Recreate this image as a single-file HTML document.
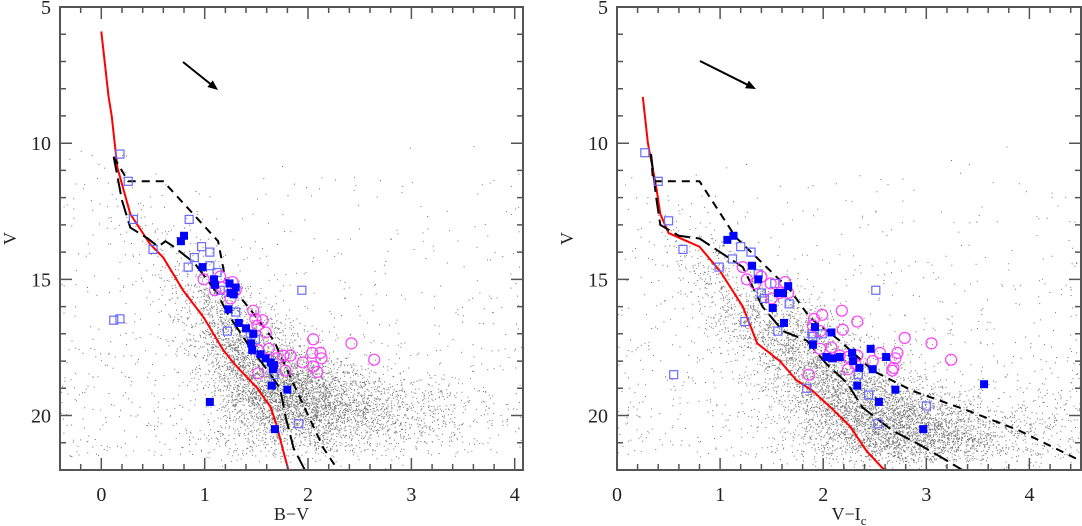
<!DOCTYPE html>
<html><head><meta charset="utf-8">
<style>
html,body{margin:0;padding:0;background:#fff;}
svg{display:block;font-family:"Liberation Serif",serif;}
</style></head>
<body>
<svg id="chart" width="1082" height="526" viewBox="0 0 1082 526" xmlns="http://www.w3.org/2000/svg"></svg>
<script>
// ---------- LEFT PANEL DATA (B-V, V) ----------
const L_redC=[0.0,0.07,0.1,0.155,0.28,0.47,0.6,0.79,0.99,1.18,1.31,1.51,1.64,1.70,1.76,1.81];
const L_redV=[5.9,8.3,9.0,10.9,12.6,13.7,14.2,15.4,16.4,17.6,18.2,19.0,19.7,20.4,21.3,22.0];
const L_longC=[0.12,0.2,0.28,0.45,0.55,0.62,0.7,0.9,1.12,1.22,1.44,1.6,1.73,1.78,1.86,1.97];
const L_longV=[10.5,12.1,13.1,13.5,13.8,13.6,13.8,14.4,15.5,16.25,17.5,18.3,19.0,20.0,21.2,22.0];
const L_shortC=[0.12,0.26,0.6,1.13,1.2,1.44,1.67,1.83,1.99,2.15,2.29];
const L_shortV=[10.5,11.4,11.4,13.6,15.0,16.1,17.25,18.6,19.9,21.2,22.0];
const L_filledC=[0.77,0.80,0.98,1.09,1.10,1.24,1.25,1.28,1.23,1.33,1.40,1.47,1.45,1.46,1.54,1.59,1.64,1.67,1.66,1.65,1.80,1.05,1.68,1.30];
const L_filledV=[13.6,13.4,14.55,15.0,15.2,15.15,15.5,15.55,16.1,16.6,16.8,17.0,17.35,17.6,17.75,17.9,18.05,18.15,18.3,18.9,19.05,19.5,20.5,15.3];
const L_openC=[0.18,0.26,0.31,0.5,0.12,0.18,0.85,0.97,1.05,0.9,0.84,1.05,1.15,1.30,1.22,1.44,1.49,1.94,1.67,1.91,1.12];
const L_openV=[10.4,11.4,12.8,13.9,16.5,16.45,12.8,13.8,14.0,14.2,14.55,14.5,15.4,16.2,16.9,17.0,17.2,15.4,18.5,20.3,14.75];
const L_circC=[0.99,1.10,1.15,1.27,1.3,1.25,1.17,1.47,1.49,1.56,1.51,1.59,1.62,1.52,1.70,1.76,1.83,1.78,1.52,1.95,2.04,2.12,2.13,2.05,2.09,2.05,2.42,2.64];
const L_circV=[15.0,15.4,14.9,15.1,15.4,15.7,15.3,16.15,16.45,16.5,16.7,16.95,17.55,17.6,17.9,17.8,17.8,18.35,18.45,18.05,17.7,17.7,17.9,18.2,18.4,17.2,17.35,17.95];
// field-star density ridges (centre colour, centre mag, colour spread, mag spread, count)
const L_ridgeC=[0.3,0.7,1.0,1.2,1.4,1.6,1.8,2.0,2.3,2.7,3.1,1.6];
const L_ridgeV=[12.5,14.2,15.5,16.5,17.5,18.4,19.2,19.7,19.9,19.9,19.8,20.6];
const L_ridgeSC=[0.15,0.15,0.15,0.17,0.2,0.22,0.25,0.3,0.35,0.35,0.3,0.3];
const L_ridgeSV=[0.6,0.6,0.5,0.5,0.5,0.5,0.5,0.55,0.55,0.6,0.6,0.6];
const L_ridgeN=[40,80,200,400,600,900,1100,900,600,300,150,300];
// ---------- RIGHT PANEL DATA (V-Ic, V) ----------
const R_redC=[0.25,0.3,0.38,0.42,0.5,0.8,1.0,1.22,1.36,1.58,1.74,1.9,2.1,2.26,2.42,2.58,2.62];
const R_redV=[8.3,10.0,11.6,12.6,13.3,13.8,14.7,16.0,17.35,18.0,18.7,19.1,19.8,20.4,21.3,21.95,22.0];
const R_longC=[0.33,0.38,0.42,0.6,0.8,1.22,1.41,1.61,1.84,2.03,2.23,2.38,2.67,2.9,3.13,3.35];
const R_longV=[10.4,12.0,13.0,13.4,13.5,14.55,16.0,16.9,17.25,18.1,18.8,19.7,20.55,21.0,21.5,22.0];
const R_shortC=[0.33,0.35,0.8,1.15,1.45,1.68,1.87,2.16,2.48,2.87,3.39,3.9,4.49];
const R_shortV=[10.4,11.4,11.4,13.45,14.55,15.4,16.4,17.25,18.35,19.1,19.8,20.55,21.65];
const R_filledC=[1.07,1.13,1.31,1.37,1.66,1.56,1.61,1.51,1.62,1.92,2.08,1.90,2.03,2.09,2.16,2.28,2.29,2.35,2.48,2.46,2.61,2.33,2.70,2.54,2.97,3.56];
const R_filledV=[13.55,13.4,14.5,15.0,15.25,15.5,15.5,16.05,16.6,16.75,16.95,17.4,17.85,17.9,17.85,17.7,18.0,18.25,18.3,17.55,17.85,18.9,19.05,19.5,20.5,18.85];
const R_openC=[0.27,0.4,0.5,0.64,0.55,0.99,1.12,1.2,1.3,1.24,1.37,1.40,1.43,1.53,1.67,1.56,1.89,1.90,1.99,2.51,1.84,2.34,2.44,3.0,2.53];
const R_openV=[10.35,11.4,12.85,13.9,18.5,14.55,14.25,13.8,14.0,16.55,14.8,15.5,15.7,15.15,15.9,16.9,17.0,17.1,17.0,15.4,19.0,18.5,19.25,19.65,20.3];
const R_circC=[1.22,1.26,1.40,1.34,1.49,1.63,1.58,1.66,1.50,2.18,1.99,1.91,2.33,2.19,1.90,1.97,2.08,1.97,2.16,2.24,2.33,2.24,2.48,2.55,2.72,2.70,2.68,2.67,2.79,3.05,3.24,1.86,2.31];
const R_circV=[14.55,15.0,14.9,15.15,15.15,15.1,15.5,15.5,15.7,16.15,16.3,16.45,16.55,16.85,16.7,16.9,17.5,17.55,17.8,17.85,17.8,18.3,18.0,17.7,17.7,17.9,18.25,18.35,17.15,17.35,17.95,18.5,18.1];
const R_ridgeC=[0.5,0.9,1.3,1.6,1.9,2.2,2.5,2.8,3.1,3.6,4.1,2.3];
const R_ridgeV=[13.0,14.5,16.0,17.0,18.0,19.0,19.9,20.6,20.9,20.6,20.3,21.0];
const R_ridgeSC=[0.12,0.15,0.18,0.2,0.22,0.25,0.28,0.3,0.35,0.4,0.4,0.3];
const R_ridgeSV=[0.5,0.5,0.5,0.5,0.55,0.55,0.55,0.5,0.45,0.55,0.6,0.5];
const R_ridgeN=[40,150,350,500,700,900,1100,1000,600,300,150,300];

const NS="http://www.w3.org/2000/svg";
const svg=document.getElementById('chart');
function mk(tag,attrs,parent){const e=document.createElementNS(NS,tag);for(const k in attrs)e.setAttribute(k,attrs[k]);(parent||svg).appendChild(e);return e;}

let seed=12345;
function rnd(){seed=(seed*1103515245+12345)&0x7fffffff;return seed/0x7fffffff;}
function gauss(){let u=rnd()||1e-6,v=rnd();return Math.sqrt(-2*Math.log(u))*Math.cos(2*Math.PI*v);}

function panel(p){
  const g=mk('g',{});
  
  
  const X=c=>p.x0+(c-p.cmin)*(p.x1-p.x0)/(p.cmax-p.cmin);
  const Y=v=>p.y0+(v-5)*(p.y1-p.y0)/(22-5);
  // clip
  const cid='clip-'+p.name;
  const cp=mk('clipPath',{id:cid},g);mk('rect',{x:p.x0,y:p.y0,width:p.x1-p.x0,height:p.y1-p.y0},cp);
  const inner=mk('g',{'clip-path':'url(#'+cid+')'},g);
  // field stars
  let d='';
  for(let i=0;i<p.rC.length;i++){
    for(let k=0;k<p.rN[i];k++){
      const c=p.rC[i]+gauss()*p.rSC[i]*1.3, v=p.rV[i]+gauss()*p.rSV[i]*1.3;
      if(v>21.7 && rnd()<0.6) continue;
      d+='M'+X(c).toFixed(1)+' '+Y(v).toFixed(1)+'h1v1h-1z';
    }
  }
  for(let k=0;k<900;k++){
    const c=p.cmin+rnd()*(p.cmax-p.cmin), v=10+Math.sqrt(rnd())*11.5;
    d+='M'+X(c).toFixed(1)+' '+Y(v).toFixed(1)+'h1v1h-1z';
  }
  const fs=mk('path',{d:d,fill:'#000','fill-opacity':0.55},inner);
  
  
  const line=(cs,vs,attrs,name)=>{const pts=cs.map((c,i)=>X(c).toFixed(1)+','+Y(vs[i]).toFixed(1)).join(' ');
    const e=mk('polyline',Object.assign({points:pts,fill:'none'},attrs),inner);
    
    };
  line(p.redC,p.redV,{stroke:'#ff0000','stroke-width':2},'isochrone-red');
  line(p.longC,p.longV,{stroke:'#000','stroke-width':2,'stroke-dasharray':'16 6'},'lower-boundary-long-dash');
  line(p.shortC,p.shortV,{stroke:'#000','stroke-width':2,'stroke-dasharray':'8 6'},'upper-boundary-short-dash');
  // markers
  p.openC.forEach((c,i)=>{const e=mk('rect',{x:X(c)-4,y:Y(p.openV[i])-4,width:8,height:8,fill:'none',stroke:'#6a6aff','stroke-width':1.2},inner);
    
    });
  p.circC.forEach((c,i)=>{const e=mk('circle',{cx:X(c),cy:Y(p.circV[i]),r:5.5,fill:'none',stroke:'#ff40ff','stroke-width':1.2},inner);
    
    });
  p.filledC.forEach((c,i)=>{const e=mk('rect',{x:X(c)-4,y:Y(p.filledV[i])-4,width:8,height:8,fill:'#0000ff'},inner);
    
    });
  // arrow
  const ar=mk('g',{},g);
  
  
  const [ax0,ay0,ax1,ay1]=p.arrow;
  const ang=Math.atan2(ay1-ay0,ax1-ax0);
  mk('line',{x1:ax0,y1:ay0,x2:ax1-8*Math.cos(ang),y2:ay1-8*Math.sin(ang),stroke:'#000','stroke-width':2},ar);
  const hx=(a,l)=>ax1-l*Math.cos(ang+a), hy=(a,l)=>ay1-l*Math.sin(ang+a);
  mk('polygon',{points:`${ax1},${ay1} ${hx(0.4,11)},${hy(0.4,11)} ${hx(-0.4,11)},${hy(-0.4,11)}`,fill:'#000'},ar);
  // frame
  const fr=mk('rect',{x:p.x0,y:p.y0,width:p.x1-p.x0,height:p.y1-p.y0,fill:'none',stroke:'#555','stroke-width':2},g);
  
  
  // ticks
  let td='';
  for(let t=Math.ceil(p.cmin*5)/5;t<=p.cmax+1e-6;t+=0.2){
    const x=X(t).toFixed(1), maj=Math.abs(t-Math.round(t))<1e-6, L=maj?12:6;
    td+=`M${x} ${p.y1}v${-L}M${x} ${p.y0}v${L}`;
  }
  for(let v=5;v<=22;v++){const y=Y(v).toFixed(1),L=(v%5==0)?12:6;td+=`M${p.x0} ${y}h${L}M${p.x1} ${y}h${-L}`;}
  mk('path',{d:td,stroke:'#555','stroke-width':1.5,fill:'none'},g);
  for(let t=Math.ceil(p.cmin);t<=p.cmax;t++){
    const e=mk('text',{x:X(t),y:p.y1+31,'font-size':20,'text-anchor':'middle',fill:'#222'},g);e.textContent=t;
    
    
  }
  [5,10,15,20].forEach(v=>{const e=mk('text',{x:p.x0-9,y:Y(v)+7,'font-size':20,'text-anchor':'end',fill:'#222'},g);e.textContent=v;
    
    });
  const yl=mk('text',{x:0,y:0,'font-size':18,'text-anchor':'middle',fill:'#222',transform:`translate(${p.x0-44},${(p.y0+p.y1)/2}) rotate(-90)`},g);
  yl.textContent='V';
  
  
  const xl=mk('text',{x:(p.x0+p.x1)/2,y:p.y1+50,'font-size':18,'text-anchor':'middle',fill:'#222'},g);
  xl.innerHTML=p.xlabel;
  
  
}

panel({name:'left-panel-bv',x0:60,x1:523,y0:7,y1:470,cmin:-0.4,cmax:4.08,
  redC:L_redC,redV:L_redV,longC:L_longC,longV:L_longV,shortC:L_shortC,shortV:L_shortV,
  filledC:L_filledC,filledV:L_filledV,openC:L_openC,openV:L_openV,circC:L_circC,circV:L_circV,
  rC:L_ridgeC,rV:L_ridgeV,rSC:L_ridgeSC,rSV:L_ridgeSV,rN:L_ridgeN,
  arrow:[183,62,218,90],xlabel:'B\u2212V'});
panel({name:'right-panel-vi',x0:617,x1:1081,y0:7,y1:470,cmin:0,cmax:4.5,
  redC:R_redC,redV:R_redV,longC:R_longC,longV:R_longV,shortC:R_shortC,shortV:R_shortV,
  filledC:R_filledC,filledV:R_filledV,openC:R_openC,openV:R_openV,circC:R_circC,circV:R_circV,
  rC:R_ridgeC,rV:R_ridgeV,rSC:R_ridgeSC,rSV:R_ridgeSV,rN:R_ridgeN,
  arrow:[700,61,756,89],xlabel:'V\u2212I<tspan font-size="13" dy="5">c</tspan>'});
</script>
</body></html>
